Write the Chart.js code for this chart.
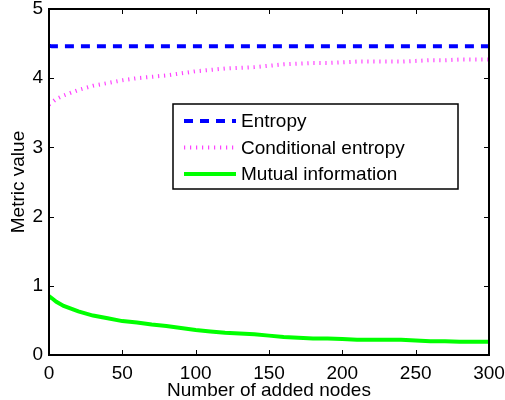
<!DOCTYPE html>
<html>
<head>
<meta charset="utf-8">
<script src="https://cdn.jsdelivr.net/npm/chart.js@4"></script>
<style>
  html, body { margin: 0; padding: 0; background: #fff; }
  #wrap { width: 505px; height: 400px; }
</style>
</head>
<body>
<div id="wrap"><canvas id="chart-metrics"></canvas></div>
<script>
var nodes = [0, 2, 5, 10, 15, 20, 30, 40, 50, 60, 70, 80, 90, 100, 110, 120, 130, 140, 150,
  160, 170, 180, 190, 200, 210, 220, 230, 240, 250, 260, 270, 280, 290, 300];
var entropy = [4.47, 4.46, 4.46, 4.46, 4.46, 4.46, 4.46, 4.46, 4.46, 4.46, 4.46, 4.46, 4.46, 4.46,
  4.46, 4.46, 4.46, 4.46, 4.46, 4.46, 4.46, 4.46, 4.46, 4.46, 4.46, 4.46, 4.46, 4.46, 4.46, 4.46,
  4.46, 4.46, 4.46, 4.46];
var condEntropy = [3.62, 3.65, 3.70, 3.75, 3.79, 3.83, 3.89, 3.93, 3.97, 4.00, 4.02, 4.04, 4.07,
  4.10, 4.12, 4.14, 4.15, 4.16, 4.18, 4.20, 4.21, 4.22, 4.22, 4.23, 4.24, 4.24, 4.24, 4.24, 4.25,
  4.26, 4.26, 4.27, 4.27, 4.27];
var mutualInfo = [0.85, 0.82, 0.77, 0.71, 0.67, 0.63, 0.57, 0.53, 0.49, 0.47, 0.44, 0.42, 0.39,
  0.36, 0.34, 0.32, 0.31, 0.30, 0.28, 0.26, 0.25, 0.24, 0.24, 0.23, 0.22, 0.22, 0.22, 0.22, 0.21,
  0.20, 0.20, 0.19, 0.19, 0.19];
var xTicks = [0, 50, 100, 150, 200, 250, 300];
var yTicks = [0, 1, 2, 3, 4, 5];

var FONT = '"Liberation Sans", Arial, Helvetica, sans-serif';
var FONT_SIZE = 19;

function points(ys) {
  return nodes.map(function(x, i) { return { x: x, y: ys[i] }; });
}

// box round the plot with short ticks pointing inwards on every side
var boxPlugin = {
  id: 'box',
  afterDatasetsDraw: function(chart) {
    var ctx = chart.ctx, a = chart.chartArea;
    var xs = chart.scales.x, ys = chart.scales.y;
    var len = 5;
    ctx.save();
    ctx.strokeStyle = '#000';
    ctx.lineWidth = 1;
    ctx.beginPath();
    xTicks.forEach(function(v) {
      var px = Math.round(xs.getPixelForValue(v)) + 0.5;
      ctx.moveTo(px, a.bottom); ctx.lineTo(px, a.bottom - len);
      ctx.moveTo(px, a.top); ctx.lineTo(px, a.top + len);
    });
    yTicks.forEach(function(v) {
      var py = Math.round(ys.getPixelForValue(v)) + 0.5;
      ctx.moveTo(a.left, py); ctx.lineTo(a.left + len, py);
      ctx.moveTo(a.right, py); ctx.lineTo(a.right - len, py);
    });
    ctx.stroke();
    ctx.lineWidth = 2;
    ctx.strokeRect(a.left, a.top, a.right - a.left, a.bottom - a.top);
    ctx.restore();
  }
};

// legend box inside the plot, upper middle
var legendPlugin = {
  id: 'boxLegend',
  afterDraw: function(chart) {
    var ctx = chart.ctx;
    var left = 173, top = 104, w = 285, h = 85;
    ctx.save();
    ctx.fillStyle = '#fff';
    ctx.fillRect(left, top, w, h);
    ctx.strokeStyle = '#000';
    ctx.lineWidth = 1.5;
    ctx.strokeRect(left, top, w, h);
    ctx.font = FONT_SIZE + 'px ' + FONT;
    ctx.textBaseline = 'middle';
    chart.data.datasets.forEach(function(ds, i) {
      var y = top + 17 + i * 26.5;
      ctx.strokeStyle = ds.borderColor;
      ctx.lineWidth = ds.borderWidth;
      ctx.setLineDash(ds.borderDash || []);
      ctx.beginPath();
      ctx.moveTo(left + 11, y);
      ctx.lineTo(left + 63, y);
      ctx.stroke();
      ctx.setLineDash([]);
      ctx.fillStyle = '#000';
      ctx.fillText(ds.label, left + 68, y + 1);
    });
    ctx.restore();
  }
};

new Chart(document.getElementById('chart-metrics'), {
  type: 'line',
  data: {
    datasets: [{
      label: 'Entropy',
      data: points(entropy),
      borderColor: '#0000ff',
      borderWidth: 4,
      borderDash: [9, 7]
    }, {
      label: 'Conditional entropy',
      data: points(condEntropy),
      borderColor: '#ff44ff',
      borderWidth: 4,
      borderDash: [1.2, 4.8]
    }, {
      label: 'Mutual information',
      data: points(mutualInfo),
      borderColor: '#00ff00',
      borderWidth: 4
    }]
  },
  options: {
    responsive: true,
    maintainAspectRatio: false,
    animation: false,
    elements: { point: { radius: 0 }, line: { tension: 0, borderCapStyle: 'butt' } },
    layout: { padding: { top: 9, right: 16, left: 0, bottom: 0 } },
    plugins: { legend: { display: false }, tooltip: { enabled: false } },
    scales: {
      x: {
        type: 'linear',
        min: 0,
        max: 300,
        afterBuildTicks: function(s) { s.ticks = xTicks.map(function(v) { return { value: v }; }); },
        afterFit: function(s) { s.height = 45; s.paddingLeft = 0; s.paddingRight = 0; },
        grid: { display: false, drawTicks: false },
        border: { display: false },
        ticks: { color: '#000', padding: 7, font: { family: FONT, size: FONT_SIZE }, maxRotation: 0 },
        title: {
          display: true,
          text: 'Number of added nodes',
          color: '#000',
          font: { family: FONT, size: FONT_SIZE, lineHeight: 1 },
          padding: { top: 0, bottom: 0 }
        }
      },
      y: {
        min: 0,
        max: 5,
        afterBuildTicks: function(s) { s.ticks = yTicks.map(function(v) { return { value: v }; }); },
        afterFit: function(s) { s.width = 49; s.paddingTop = 0; s.paddingBottom = 0; },
        grid: { display: false, drawTicks: false },
        border: { display: false },
        ticks: { color: '#000', padding: 6, font: { family: FONT, size: FONT_SIZE } },
        title: {
          display: true,
          text: 'Metric value',
          color: '#000',
          font: { family: FONT, size: FONT_SIZE },
          padding: { top: 7, bottom: 0 }
        }
      }
    }
  },
  plugins: [boxPlugin, legendPlugin]
});
</script>
</body>
</html>
